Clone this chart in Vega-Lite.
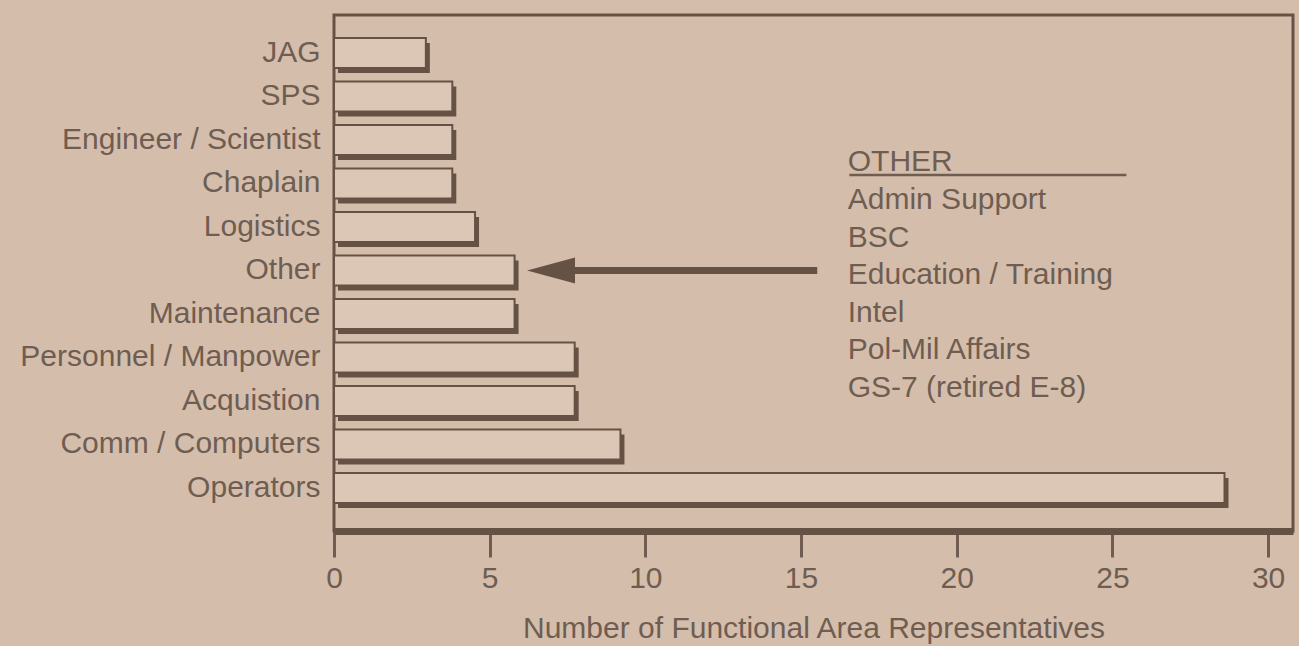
{
  "$schema": "https://vega.github.io/schema/vega-lite/v6.json",
  "autosize": "none",
  "width": 959,
  "height": 516,
  "padding": {"left": 334, "top": 15, "right": 6, "bottom": 115},
  "background": "#d5bdab",
  "config": {
    "view": {"stroke": "#665245", "strokeWidth": 3},
    "font": "Liberation Sans",
    "text": {"font": "Liberation Sans"}
  },
  "datasets": {
    "areas": [
      {"area": "JAG", "count": 2.95},
      {"area": "SPS", "count": 3.8},
      {"area": "Engineer / Scientist", "count": 3.8},
      {"area": "Chaplain", "count": 3.8},
      {"area": "Logistics", "count": 4.53},
      {"area": "Other", "count": 5.8},
      {"area": "Maintenance", "count": 5.8},
      {"area": "Personnel / Manpower", "count": 7.73},
      {"area": "Acquistion", "count": 7.73},
      {"area": "Comm / Computers", "count": 9.2},
      {"area": "Operators", "count": 28.6}
    ],
    "note": [
      {"heading": "OTHER", "members": ["OTHER", "Admin Support", "BSC", "Education / Training", "Intel", "Pol-Mil Affairs", "GS-7 (retired E-8)"]}
    ]
  },
  "layer": [
    {
      "data": {"name": "areas"},
      "mark": {"type": "bar", "color": "#665245", "xOffset": 4, "yOffset": 5},
      "encoding": {
        "y": {
          "field": "area", "type": "nominal", "sort": null,
          "scale": {"paddingInner": 0.31, "paddingOuter": 0.585, "align": 0.45},
          "axis": {
            "title": null, "domain": false, "ticks": false,
            "labelFontSize": 30, "labelPadding": 14, "labelLimit": 500,
            "labelColor": "#6f5d52", "labelFont": "Liberation Sans"
          }
        },
        "x": {
          "field": "count", "type": "quantitative",
          "scale": {"domain": [0, 30.8], "nice": false, "zero": true},
          "axis": {
            "title": "Number of Functional Area Representatives",
            "values": [0, 5, 10, 15, 20, 25, 30],
            "grid": false,
            "domainColor": "#665245", "domainWidth": 7,
            "tickColor": "#6f5d52", "tickWidth": 3, "tickSize": 26,
            "labelFontSize": 30, "labelPadding": 6, "labelColor": "#6f5d52",
            "labelFont": "Liberation Sans", "labelOverlap": false, "labelFlush": false,
            "titleFontSize": 30, "titleFontWeight": "normal", "titleColor": "#6f5d52",
            "titleFont": "Liberation Sans", "titlePadding": 20
          }
        }
      }
    },
    {
      "data": {"name": "areas"},
      "mark": {"type": "bar", "fill": "#dcc6b6", "stroke": "#665245", "strokeWidth": 2},
      "encoding": {
        "y": {"field": "area", "type": "nominal", "sort": null},
        "x": {"field": "count", "type": "quantitative"}
      }
    },
    {
      "data": {"name": "note"},
      "mark": {"type": "rule", "color": "#665245", "strokeWidth": 7},
      "encoding": {
        "y": {"datum": "Other"},
        "x": {"datum": 6.9},
        "x2": {"datum": 15.52}
      }
    },
    {
      "data": {"name": "note"},
      "mark": {"type": "point", "filled": true, "color": "#665245", "opacity": 1,
               "shape": "M -1 0 L 1 -0.54 L 1 0.54 Z", "size": 2304},
      "encoding": {
        "y": {"datum": "Other"},
        "x": {"datum": 6.97}
      }
    },
    {
      "data": {"name": "note"},
      "mark": {"type": "text", "align": "left", "baseline": "middle", "dy": -21,
               "fontSize": 30, "lineHeight": 37.6, "color": "#6f5d52", "font": "Liberation Sans"},
      "encoding": {
        "y": {"datum": "Chaplain"},
        "x": {"datum": 16.5},
        "text": {"field": "members"}
      }
    },
    {
      "data": {"name": "note"},
      "mark": {"type": "rule", "color": "#6f5d52", "strokeWidth": 2.5, "yOffset": -8.5},
      "encoding": {
        "y": {"datum": "Chaplain"},
        "x": {"datum": 16.55},
        "x2": {"datum": 25.45}
      }
    }
  ]
}
